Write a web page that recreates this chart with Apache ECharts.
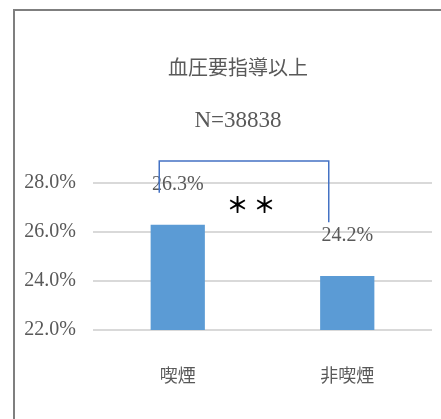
<!DOCTYPE html>
<html><head><meta charset="utf-8">
<script src="https://cdn.jsdelivr.net/npm/echarts@6/dist/echarts.min.js"></script>
<style>html,body{margin:0;padding:0;background:#fff}#c{width:441px;height:419px}</style>
</head><body><div id="c"></div>
<script>
const titleText = '血圧要指導以上';
const subText = 'N=38838';
const categories = ['喫煙', '非喫煙'];
const values = [26.3, 24.2];
const yTicks = [22, 24, 26, 28];
const sigMark = '＊ ＊';
const bracketTop = 28.9;
const bracketEnds = [27.6, 26.4];

const serif = '"Liberation Serif","DejaVu Serif","Noto Sans CJK JP",serif';
const chart = echarts.init(document.getElementById('c'));
const option = {
  animation: false,
  backgroundColor: '#fff',
  title: [
    {text: titleText, left: 233, top: 52, textAlign: 'center',
     textStyle: {fontFamily: '"Noto Sans CJK JP",sans-serif', fontWeight: 'normal', fontSize: 20, color: '#595959'}},
    {text: subText, left: 233, top: 104, textAlign: 'center',
     textStyle: {fontFamily: serif, fontWeight: 'normal', fontSize: 23, color: '#595959'}}
  ],
  grid: {left: 93, right: 9, top: 183, bottom: 89, containLabel: false},
  xAxis: {
    type: 'category', data: categories,
    axisLine: {show: false}, axisTick: {show: false},
    axisLabel: {margin: 36, fontFamily: '"Noto Sans CJK JP",sans-serif', fontSize: 18, color: '#595959'}
  },
  yAxis: {
    type: 'value', min: yTicks[0], max: yTicks[yTicks.length - 1], interval: 2,
    axisLine: {show: false}, axisTick: {show: false},
    splitLine: {lineStyle: {color: '#d9d9d9', width: 2}},
    axisLabel: {margin: 17, fontFamily: serif, fontSize: 20, color: '#595959',
      formatter: v => v.toFixed(1) + '%'}
  },
  series: [{
    type: 'bar', data: values, barWidth: '32%',
    itemStyle: {color: '#5b9bd5'},
    label: {show: true, position: 'top', distance: 30, fontFamily: serif, fontSize: 20, color: '#595959',
      formatter: p => p.value.toFixed(1) + '%'}
  }],
  graphic: []
};
chart.setOption(option);

const pTop0 = chart.convertToPixel({gridIndex: 0}, [0, bracketTop]);
const pEnd0 = chart.convertToPixel({gridIndex: 0}, [0, bracketEnds[0]]);
const pTop1 = chart.convertToPixel({gridIndex: 0}, [1, bracketTop]);
const pEnd1 = chart.convertToPixel({gridIndex: 0}, [1, bracketEnds[1]]);
const off = -18.5;
chart.setOption({
  graphic: [
    {type: 'polyline', shape: {points: [[pEnd0[0] + off, pEnd0[1]], [pTop0[0] + off, pTop0[1]], [pTop1[0] + off, pTop1[1]], [pEnd1[0] + off, pEnd1[1]]]},
     style: {stroke: '#4472c4', lineWidth: 1.5, fill: null}, z: 10},
    {type: 'text', x: 251, y: 205,
     style: {text: sigMark, fontSize: 22, fill: '#000', fontWeight: 'bold', fontFamily: '"Noto Sans CJK JP",sans-serif', align: 'center', verticalAlign: 'middle'}, z: 10},
    {type: 'polyline', shape: {points: [[441, 10], [14, 10], [14, 419]]},
     style: {stroke: '#7f7f7f', lineWidth: 2, fill: null}, z: 10}
  ]
});
</script></body></html>
